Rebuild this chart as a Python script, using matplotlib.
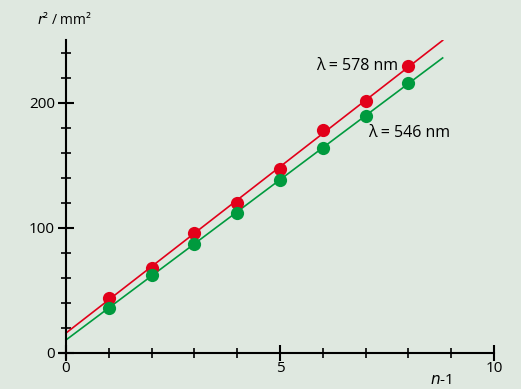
import numpy as np
import matplotlib
matplotlib.use('Agg')
from matplotlib import pyplot as plt
from matplotlib.ticker import MultipleLocator

# Data
n_minus_1 = [1, 2, 3, 4, 5, 6, 7, 8]
r2_578 = [44, 68, 96, 120, 147, 178, 201, 229]
r2_546 = [36, 62, 87, 112, 138, 164, 189, 216]
label_578 = 'λ = 578 nm'
label_546 = 'λ = 546 nm'

bg = '#dfe8e0'
red = '#e2001a'
green = '#009a3e'

plt.rcParams['font.family'] = ['Open Sans', 'DejaVu Sans']

fig = plt.figure(figsize=(5.21, 3.89), dpi=100, facecolor=bg)
W, H = 521, 389
ax = fig.add_axes([60 / W, (H - 359) / H, 440 / W, 319 / H])
ax.set_facecolor(bg)
ax.set_xlim(-0.14, 10.14)
ax.set_ylim(-5, 250)

# Fitted lines from 0 to ~8.8
xs = np.array([0, 8.8])
for y, c in [(r2_578, red), (r2_546, green)]:
    k, d = np.polyfit(n_minus_1, y, 1)
    ax.plot(xs, k * xs + d, color=c, lw=1.2, zorder=2)
    ax.plot(n_minus_1, y, 'o', color=c, ms=9.5, mec='none', zorder=3)

# Axes styling
for s in ['top', 'right']:
    ax.spines[s].set_visible(False)
ax.spines['left'].set_position(('data', 0))
ax.spines['bottom'].set_position(('data', 0))
ax.spines['left'].set_bounds(-4, 250)
ax.spines['bottom'].set_bounds(-0.14, 10)
ax.spines['left'].set_linewidth(1.5)
ax.spines['bottom'].set_linewidth(1.5)

ax.xaxis.set_major_locator(MultipleLocator(5))
ax.xaxis.set_minor_locator(MultipleLocator(1))
ax.yaxis.set_major_locator(MultipleLocator(100))
ax.yaxis.set_minor_locator(MultipleLocator(20))
ax.tick_params(which='major', direction='inout', length=12, width=1.5,
               labelsize=11, pad=2)
ax.tick_params(which='minor', direction='inout', length=7, width=1.2)
ax.tick_params(axis='x', which='major', pad=0)

ax.text(7.76, 229, label_578, ha='right', va='center', fontsize=11.5)
ax.text(7.06, 176, label_546, ha='left', va='center', fontsize=11.5)

fig.text(37 / W, 1 - 20 / H, r'$r$² / mm²', ha='left', va='center', fontsize=10)
fig.text(430 / W, 1 - 380 / H, r'$n$-1', ha='left', va='center', fontsize=11)

fig.savefig('out.png', dpi=100, facecolor=bg)
